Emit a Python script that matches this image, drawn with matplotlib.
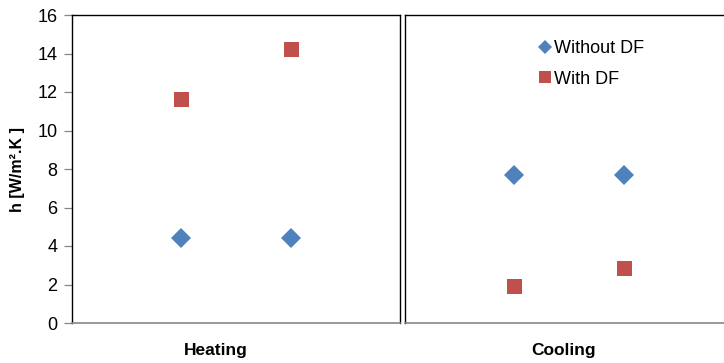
import matplotlib.pyplot as plt
from matplotlib.lines import Line2D

plt.rcParams['font.family'] = ['Liberation Sans', 'DejaVu Sans']

# heat transfer coefficient per case, two runs each
cases = ['Heating', 'Cooling']
runs = [1, 2]
without_df = {'Heating': [4.42, 4.39], 'Cooling': [7.68, 7.68]}
with_df = {'Heating': [11.65, 14.25], 'Cooling': [1.94, 2.84]}

BLUE = '#4F81BD'
RED = '#C0504D'

fig = plt.figure(figsize=(7.24, 3.63), dpi=100)
W, H = 724, 363
axes = [
    fig.add_axes([72 / W, 40 / H, 328 / W, 308 / H]),
    fig.add_axes([405 / W, 40 / H, 328 / W, 308 / H]),
]

for ax, case in zip(axes, cases):
    ax.plot(runs, without_df[case], 'D', color=BLUE, ms=10.2, mec=BLUE, mew=0)
    ax.plot(runs, with_df[case], 's', color=RED, ms=10.8, mec=RED, mew=0)
    ax.set_xlim(0, 3)
    ax.set_ylim(0, 16)
    ax.set_xticks([])
    for s in ['left', 'top', 'right']:
        ax.spines[s].set_color('black')
        ax.spines[s].set_linewidth(1.0)
    ax.spines['bottom'].set_color('#868686')
    ax.spines['bottom'].set_linewidth(1.2)

ax0, ax1 = axes
ax0.set_yticks(range(0, 17, 2))
ax0.tick_params(axis='y', direction='out', length=5.5, width=0.9,
                color='#868686', labelsize=13, pad=5)
ax0.set_ylabel('h [W/m².K ]', fontsize=11.5, fontweight='bold', labelpad=9)
ax1.set_yticks([])

handles = [
    Line2D([], [], ls='none', marker='D', color=BLUE, ms=7.5, mew=0),
    Line2D([], [], ls='none', marker='s', color=RED, ms=9, mew=0),
]
ax1.legend(handles, ['Without DF', 'With DF'], loc='upper left',
           bbox_to_anchor=(531 / W, 1 - 31 / H), bbox_transform=fig.transFigure,
           frameon=False, fontsize=13, handlelength=0.6, handletextpad=0.2,
           labelspacing=0.75, borderpad=0)

fig.text(216 / W, 1 - 350 / H, 'Heating', ha='center', va='center',
         fontsize=12.5, fontweight='bold')
fig.text(564 / W, 1 - 350 / H, 'Cooling', ha='center', va='center',
         fontsize=12.5, fontweight='bold')

fig.savefig('out.png', dpi=100)
